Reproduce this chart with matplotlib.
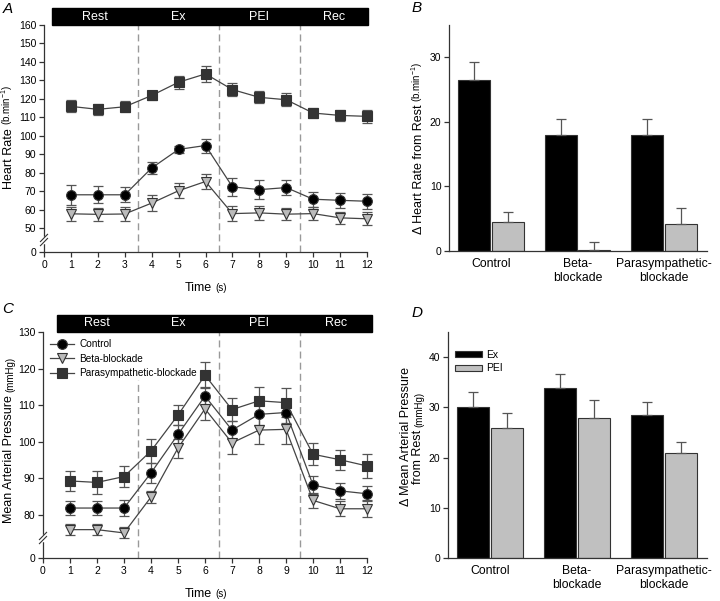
import numpy as np
import matplotlib.pyplot as plt
from matplotlib.patches import Rectangle
from matplotlib.transforms import blended_transform_factory

plt.rcParams['font.family'] = ['Liberation Sans', 'DejaVu Sans']

time = np.arange(1, 13)
phases = ["Rest", "Ex", "PEI", "Rec"]
groups = ["Control", "Beta-\nblockade", "Parasympathetic-\nblockade"]

# panel A: heart rate
hr_control = [68.0, 68.0, 68.0, 82.5, 92.6, 94.7, 72.3, 70.8, 71.9, 65.6, 65.0, 64.5]
hr_control_err = [5.5, 4.5, 4.0, 3.0, 2.0, 3.8, 5.0, 5.0, 4.0, 4.0, 4.0, 4.0]
hr_beta = [57.7, 57.4, 57.6, 63.5, 70.2, 75.2, 57.8, 58.2, 57.5, 57.8, 55.5, 55.0]
hr_beta_err = [3.8, 3.5, 3.8, 4.2, 4.2, 3.8, 4.0, 3.8, 3.2, 3.5, 3.2, 3.5]
hr_para = [115.9, 114.3, 115.7, 121.8, 129.0, 133.5, 125.0, 120.8, 119.5, 112.3, 111.0, 110.5]
hr_para_err = [3.2, 3.0, 3.0, 2.5, 3.5, 4.3, 3.5, 3.2, 3.5, 2.8, 3.0, 3.5]

# panel C: mean arterial pressure
map_control = [81.9, 81.9, 81.9, 91.5, 102.0, 112.5, 103.2, 107.5, 108.0, 88.2, 86.6, 85.8]
map_control_err = [2.0, 2.0, 2.3, 2.8, 2.5, 2.5, 2.5, 3.0, 3.0, 2.5, 2.2, 2.0]
map_beta = [76.0, 76.0, 75.1, 84.9, 98.3, 109.0, 99.7, 103.2, 103.4, 84.0, 81.7, 81.7]
map_beta_err = [1.5, 1.6, 1.5, 1.6, 2.6, 3.0, 3.0, 3.8, 4.1, 2.0, 2.0, 2.3]
map_para = [89.3, 88.9, 90.5, 97.5, 107.3, 118.2, 108.8, 111.2, 110.7, 96.6, 95.1, 93.4]
map_para_err = [2.8, 3.2, 2.8, 3.3, 2.8, 3.5, 3.2, 3.8, 4.0, 3.0, 2.7, 3.3]

# panel B / D: change from rest
dhr_ex = [26.5, 18.0, 17.9]
dhr_ex_err = [2.7, 2.4, 2.5]
dhr_pei = [4.5, 0.2, 4.2]
dhr_pei_err = [1.5, 1.2, 2.4]
dmap_ex = [30.0, 33.8, 28.5]
dmap_ex_err = [3.1, 2.8, 2.5]
dmap_pei = [25.8, 27.8, 21.0]
dmap_pei_err = [3.1, 3.6, 2.1]

W, H = 720, 601
fig = plt.figure(figsize=(W / 100, H / 100), dpi=100)


def add_ax(x0, y0, x1, y1):
    return fig.add_axes([x0 / W, 1 - y1 / H, (x1 - x0) / W, (y1 - y0) / H])


def broken_scale(lo, gap):
    # linear above lo, squeezed below it
    fwd = lambda y: np.where(y >= lo, y - lo + gap, y * gap / lo)
    inv = lambda u: np.where(u >= gap, u + lo - gap, u * lo / gap)
    return fwd, inv


def style(ax):
    for s in ["top", "right"]:
        ax.spines[s].set_visible(False)
    for s in ["left", "bottom"]:
        ax.spines[s].set_color("#333333")
        ax.spines[s].set_linewidth(0.9)
    ax.tick_params(direction="out", length=3.5, width=0.9, color="#333333",
                   labelsize=7.5, pad=2)


def phase_bar(ax, x0, x1, h):
    tr = blended_transform_factory(ax.transData, ax.transAxes)
    ax.add_patch(Rectangle((x0, 1.0), x1 - x0, h, transform=tr, color="black",
                           clip_on=False, zorder=5))
    edges = [x0, 3.5, 6.5, 9.5, x1]
    for name, a, b in zip(phases, edges[:-1], edges[1:]):
        ax.text((a + b) / 2, 1 + h / 2, name, transform=tr, color="white",
                ha="center", va="center", fontsize=9, zorder=6)


def axis_break(ax, yb, dx, dy, off):
    kw = dict(transform=ax.transAxes, clip_on=False, zorder=4)
    ax.plot([0, 0], [yb - off, yb + off], color="white", lw=2.5, **kw)
    for o in (-off, off):
        ax.plot([-dx, dx], [yb + o - dy, yb + o + dy], color="#333333", lw=0.8, **kw)


def series(ax, y, err, marker, face, label, ms):
    eb = ax.errorbar(time, y, yerr=err, fmt="none", ecolor="#555555", elinewidth=0.9,
                     capsize=3.5, capthick=0.9, zorder=2)
    for a in eb.lines[1] + eb.lines[2]:
        a.set_clip_on(False)
    ax.plot(time, y, color="#444444", lw=0.9, marker=marker, ms=ms, mfc=face,
            mec="#333333", mew=0.8, label=label, zorder=3, clip_on=False)


def time_axis(ax):
    ax.set_xlim(0, 12)
    ax.set_xticks(range(0, 13))


# ---------- A ----------
axA = add_ax(44, 25, 367, 252)
fwd, inv = broken_scale(48, 11)
axA.set_yscale("function", functions=(fwd, inv))
axA.set_ylim(0, 160)
axA.set_yticks([0] + list(range(50, 161, 10)))
time_axis(axA)
for xv in (3.5, 6.5, 9.5):
    axA.axvline(xv, color="#999999", ls=(0, (5, 3)), lw=1, zorder=1)
series(axA, hr_para, hr_para_err, "s", "#333333", "Parasympathetic-blockade", 7)
series(axA, hr_control, hr_control_err, "o", "black", "Control", 7)
series(axA, hr_beta, hr_beta_err, "v", "#bbbbbb", "Beta-blockade", 7.5)
style(axA)
phase_bar(axA, 0.3, 12.04, 17 / 227)
axis_break(axA, 12 / 227, 0.011, 0.016, 0.009)

# ---------- C ----------
axC = add_ax(43, 332, 367, 558)
fwd, inv = broken_scale(73, 4.75)
axC.set_yscale("function", functions=(fwd, inv))
axC.set_ylim(0, 130)
axC.set_yticks([0, 80, 90, 100, 110, 120, 130])
time_axis(axC)
axC.plot([3.5, 3.5], [0, 117], color="#999999", ls=(0, (5, 3)), lw=1, zorder=1)
for xv in (6.5, 9.5):
    axC.axvline(xv, color="#999999", ls=(0, (5, 3)), lw=1, zorder=1)
series(axC, map_control, map_control_err, "o", "black", "Control", 7)
series(axC, map_beta, map_beta_err, "v", "#bbbbbb", "Beta-blockade", 7.5)
series(axC, map_para, map_para_err, "s", "#333333", "Parasympathetic-blockade", 7)
style(axC)
phase_bar(axC, 0.52, 12.2, 17 / 226)
axis_break(axC, 20 / 226, 0.011, 0.016, 0.009)
axC.legend(loc="upper left", bbox_to_anchor=(0.01, 0.985), frameon=False, fontsize=7.2,
           handlelength=2.4, handletextpad=0.5, labelspacing=0.45, borderaxespad=0.0)

# ---------- B / D ----------
pos = np.arange(len(groups))
bw = 0.37


def bar_panel(ax, ex, ex_err, pei, pei_err, ymax, yticks):
    ax.bar(pos - 0.195, ex, bw, color="black", edgecolor="#333333", lw=0.8, label="Ex")
    ax.bar(pos + 0.195, pei, bw, color="#c0c0c0", edgecolor="#333333", lw=0.8, label="PEI")
    ax.errorbar(pos - 0.195, ex, yerr=[np.zeros(len(ex)), ex_err], fmt="none",
                ecolor="#555555", elinewidth=0.9, capsize=3.5, capthick=0.9)
    ax.errorbar(pos + 0.195, pei, yerr=[np.zeros(len(pei)), pei_err], fmt="none",
                ecolor="#555555", elinewidth=0.9, capsize=3.5, capthick=0.9)
    ax.set_xlim(-0.486, 2.497)
    ax.set_ylim(0, ymax)
    ax.set_yticks(yticks)
    ax.set_xticks(pos)
    ax.set_xticklabels(groups)
    style(ax)
    ax.tick_params(axis="x", length=0, labelsize=8.8, pad=5)


axB = add_ax(449, 25, 707, 251)
bar_panel(axB, dhr_ex, dhr_ex_err, dhr_pei, dhr_pei_err, 35, [0, 10, 20, 30])

axD = add_ax(448, 332, 707, 558)
bar_panel(axD, dmap_ex, dmap_ex_err, dmap_pei, dmap_pei_err, 45, [0, 10, 20, 30, 40])
axD.legend(loc="upper left", frameon=False, fontsize=7.5, handlelength=2.6,
           handleheight=0.55, handletextpad=0.4, labelspacing=0.35,
           bbox_to_anchor=(0.01, 0.94), borderaxespad=0.0)

# ---------- labels ----------
fig.canvas.draw()
renderer = fig.canvas.get_renderer()
per_min = r"(b.min$^{\mathregular{-1}}$)"


def vlabel(x, yc, main, unit, size=9, usize=7):
    # rotated label, smaller unit text, both sitting on the same baseline
    t = fig.text(x / W, 1 - yc / H, main, rotation=90, ha="right", va="center", fontsize=size)
    u = fig.text(x / W, 0, unit, rotation=90, ha="right", va="center", fontsize=usize)
    bt = t.get_window_extent(renderer)
    bu = u.get_window_extent(renderer)
    gap = 3
    total = bt.height + gap + bu.height
    ymid = (1 - yc / H) * H
    t.set_y((ymid - total / 2 + bt.height / 2) / H)
    u.set_y((ymid + total / 2 - bu.height / 2) / H)


def hlabel(xc, y, main, unit, size=9, usize=7):
    t = fig.text(0, 1 - y / H, main, ha="center", va="baseline", fontsize=size)
    u = fig.text(0, 1 - y / H, unit, ha="center", va="baseline", fontsize=usize)
    bt = t.get_window_extent(renderer)
    bu = u.get_window_extent(renderer)
    gap = 3
    total = bt.width + gap + bu.width
    t.set_x((xc - total / 2 + bt.width / 2) / W)
    u.set_x((xc + total / 2 - bu.width / 2) / W)


vlabel(15, 137, "Heart Rate", per_min)
vlabel(15, 440, "Mean Arterial Pressure", "(mmHg)")
vlabel(425, 148, "\u0394 Heart Rate from Rest", per_min)
fig.text(412 / W, 1 - 437 / H, "\u0394 Mean Arterial Pressure", rotation=90,
         ha="right", va="center", fontsize=9)
vlabel(424, 438, "from Rest", "(mmHg)")
hlabel(206, 291, "Time", "(s)")
hlabel(206, 597, "Time", "(s)")

for letter, x, y in [("A", 8, 9), ("B", 417, 8), ("C", 8, 309), ("D", 417, 313)]:
    fig.text(x / W, 1 - y / H, letter, style="italic", fontsize=11, ha="center", va="center")

fig.savefig("out.png", dpi=100)
